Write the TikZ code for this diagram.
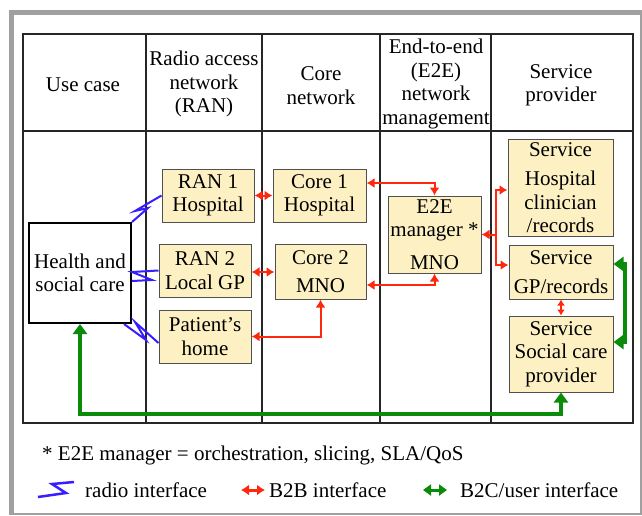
\documentclass[tikz,border=0pt]{standalone}
\usepackage{fontspec}
\setmainfont{Liberation Serif}
\usetikzlibrary{arrows.meta,positioning,calc}
\definecolor{boxfill}{RGB}{253,241,196}
\definecolor{boxline}{RGB}{80,80,80}
\definecolor{radioblue}{RGB}{55,30,255}
\definecolor{btobred}{RGB}{255,40,15}
\definecolor{btocgreen}{RGB}{10,140,10}
\definecolor{framegray}{RGB}{160,160,160}
\tikzstyle{blk}   = [draw=boxline, fill=boxfill, line width=1pt, align=center, inner sep=0pt]
\tikzstyle{hd}    = [align=center, inner sep=0pt]
\tikzstyle{radio} = [radioblue, line width=2pt, line join=miter]
\tikzstyle{btob}  = [btobred, line width=2pt, >={Latex[length=8pt,width=10pt]}]
\tikzstyle{btoc}  = [btocgreen, line width=4pt, >={Triangle[length=10pt,width=14pt]}]

\begin{document}
\begin{tikzpicture}[x=1pt, y=-1pt, font=\fontsize{21}{23.5}\selectfont,
		tbl/.style={draw=black!85, line width=1.2pt}]
	\useasboundingbox (0,0) rectangle (642,515);

	\fill[framegray] (9,10) rectangle (14,515);
	\fill[framegray] (9,10) rectangle (642,15);
	\fill[framegray] (639.5,10) rectangle (641.5,515);
	\fill[framegray] (9,513) rectangle (641.5,515);

	\draw[tbl] (23,34) rectangle (633,423);
	\draw[tbl] (23,131) -- (633,131);
	\draw[tbl] (146,34) -- (146,423);
	\draw[tbl] (262,34) -- (262,423);
	\draw[tbl] (380,34) -- (380,423);
	\draw[tbl] (491,34) -- (491,423);

	\node[hd] (hdcase) at (83,85) {Use case};
	\node[hd] (hdran)  at (204,84) {Radio access\\network\\(RAN)};
	\node[hd] (hdcore) at (321,85.5) {Core\\network};
	\node[hd] (hde2e)  at (436,84) {End-to-end\\(E2E)\\network\\management};
	\node[hd] (hdsp)   at (561,85.5) {Service\\provider};

	\node[blk, draw=black, fill=white, line width=2pt, minimum width=102pt, minimum height=100pt] (health) at (80,273) {Health and\\social care};

	\node[blk, minimum width=92pt, minimum height=53pt] (ran1) at (208,195.5) {RAN 1\\Hospital};
	\node[blk, minimum width=92pt, minimum height=53pt] (ran2) at (205,270.5) {RAN 2\\Local GP};
	\node[blk, minimum width=92pt, minimum height=53pt] (home) at (205,336.5) {Patient’s\\home};

	\node[blk, minimum width=93pt, minimum height=53pt] (core1) at (319.5,195.5) {Core 1\\Hospital};
	\node[blk, minimum width=91pt, minimum height=55pt] (core2) at (320.5,271.5) {Core 2\\[4pt]MNO};

	\node[blk, minimum width=93pt, minimum height=77pt] (e2e) at (434.5,234.5) {E2E\\manager *\\[9pt]MNO};

	\node[blk, minimum width=105pt, minimum height=97pt] (sh)  at (560.5,187.5) {Service\\[6pt]Hospital\\clinician\\/records};
	\node[blk, minimum width=104pt, minimum height=54pt] (sgp) at (561,272) {Service\\[5pt]GP/records};
	\node[blk, minimum width=104pt, minimum height=76pt] (ssc) at (561,354) {Service\\Social care\\provider};

	\draw[radio] (health.north east) -- (148,208) -- (135,211) -- (ran1.west);
	\draw[radio] ([yshift=-8pt]health.east) -- (152,280) -- (132,272) -- (ran2.west);
	\draw[radio] ([xshift=-8pt]health.south east) -- (146,340) -- (135,322) -- ([yshift=-6.5pt]home.west);

	\draw[btob,<->] (ran1.east) -- (core1.west);
	\draw[btob,<->] ([yshift=-1.5pt]ran2.east) -- ([yshift=-1.5pt]ran2.east -| core2.west);
	\draw[btob,<->] (core2.south) |- (home.east);
	\draw[btob,<->] ([yshift=12.5pt]core1.east) -| (e2e.north);
	\draw[btob,<->] ([yshift=-13.5pt]core2.east) -| (e2e.south);
	\draw[btob,<-] (e2e.east) -- ++(14,0) coordinate (jn);
	\draw[btob,->] (jn) |- ([yshift=-2.5pt]sh.west);
	\draw[btob,->] (jn) |- ([yshift=7pt]sgp.west);
	\draw[btob, >={Latex[length=6pt,width=8pt]}, <->] (sgp.south) -- (ssc.north);

	\draw[btoc,<->] (health.south) -- ++(0,90) -| (ssc.south);
	\draw[btoc,<->] ([yshift=8pt]sgp.east) -- ++(11,0) |- ([yshift=12pt]ssc.east);

	\node[anchor=west, inner sep=0pt] (note) at (42,455) {* E2E manager = orchestration, slicing, SLA/QoS};

	\draw[radio, line width=2.5pt] (74,482) -- (52,484) -- (66,493) -- (38,497);
	\node[anchor=west, inner sep=0pt] (lgradio) at (85,490) {radio interface};

	\coordinate (lgba) at (241,490);
	\coordinate (lgbb) at (265,490);
	\draw[btob, line width=3pt, >={Latex[length=8pt,width=11pt]}, <->] (lgba) -- (lgbb);
	\node[anchor=west, inner sep=0pt] (lgbtob) at (269,490) {B2B interface};

	\coordinate (lgca) at (423,490);
	\coordinate (lgcb) at (447,490);
	\draw[btocgreen, line width=3pt, >={Triangle[length=8pt,width=11pt]}, <->] (lgca) -- (lgcb);
	\node[anchor=west, inner sep=0pt] (lgbtoc) at (460,490) {B2C/user interface};
\end{tikzpicture}
\end{document}
